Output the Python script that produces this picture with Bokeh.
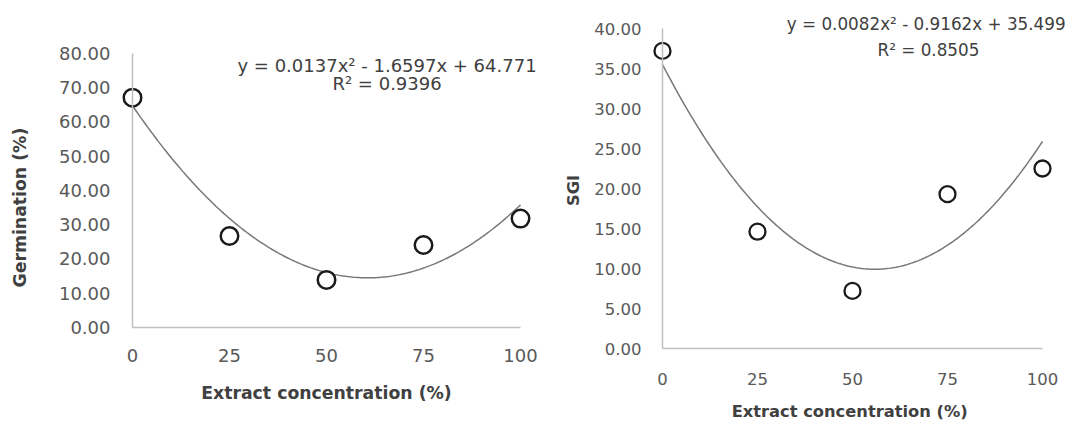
import numpy as np
from bokeh.plotting import figure
from bokeh.layouts import row
from bokeh.models import FixedTicker, NumeralTickFormatter, Label, Range1d
from bokeh.embed import file_html
from bokeh.resources import INLINE

# ---------------- data ----------------
conc = [0, 25, 50, 75, 100]
germination = [67.1, 26.7, 13.9, 24.1, 31.8]
sgi = [37.2, 14.6, 7.2, 19.3, 22.5]

germ_coef = [0.0137, -1.6597, 64.771]
sgi_coef = [0.0082, -0.9162, 35.499]

germ_eq = "y = 0.0137x² - 1.6597x + 64.771"
germ_r2 = "R² = 0.9396"
sgi_eq = "y = 0.0082x² - 0.9162x + 35.499"
sgi_r2 = "R² = 0.8505"

x_ticks = [0, 25, 50, 75, 100]
germ_ticks = [0, 10, 20, 30, 40, 50, 60, 70, 80]
sgi_ticks = [0, 5, 10, 15, 20, 25, 30, 35, 40]

x_title_left = "Extract concentration (%)"
x_title_right = "Extract concentration  (%)"
y_title_left = "Germination (%)"
y_title_right = "SGI"

FONT = "DejaVu Sans"
TICK_COLOR = "#595959"
TEXT_COLOR = "#404040"
AXIS_COLOR = "#bfbfbf"


def make_panel(y, coef, yticks, ymax, eq, r2, xtitle, ytitle,
               w, h, xr, yr, fs, title_fs, eq_fs, eq_pos, r2_pos, yt_pos,
               msize, mlw, xlab_standoff, xtitle_standoff, ylab_standoff):
    p = figure(frame_width=w, frame_height=h,
               min_border=0,
               x_range=Range1d(*xr), y_range=Range1d(*yr),
               output_backend="svg", toolbar_location=None)
    p.outline_line_color = None
    p.grid.visible = False
    p.background_fill_color = "white"
    p.border_fill_color = "white"

    # trend line from the displayed polynomial coefficients
    xs = np.linspace(0, 100, 201)
    ys = np.polyval(coef, xs)
    p.line(xs, ys, line_color="#777777", line_width=1.5)

    p.scatter(conc, y, size=msize, marker="circle", fill_color="white",
              line_color="#1a1a1a", line_width=mlw)

    xa = p.xaxis[0]
    xa.ticker = FixedTicker(ticks=x_ticks)
    xa.bounds = (0, 100)
    xa.fixed_location = 0
    xa.axis_line_color = AXIS_COLOR
    xa.axis_line_width = 1.5
    xa.major_tick_line_color = None
    xa.minor_tick_line_color = None
    xa.major_tick_out = 0
    xa.major_tick_in = 0
    xa.major_label_standoff = xlab_standoff
    xa.major_label_text_font = FONT
    xa.major_label_text_font_size = f"{fs}px"
    xa.major_label_text_color = TICK_COLOR
    xa.axis_label = xtitle
    xa.axis_label_standoff = xtitle_standoff
    xa.axis_label_text_font = FONT
    xa.axis_label_text_font_style = "bold"
    xa.axis_label_text_font_size = f"{title_fs}px"
    xa.axis_label_text_color = TEXT_COLOR

    ya = p.yaxis[0]
    ya.ticker = FixedTicker(ticks=yticks)
    ya.formatter = NumeralTickFormatter(format="0.00")
    ya.bounds = (0, ymax)
    ya.fixed_location = 0
    ya.axis_line_color = AXIS_COLOR
    ya.axis_line_width = 1.5
    ya.major_tick_line_color = None
    ya.minor_tick_line_color = None
    ya.major_tick_out = 0
    ya.major_tick_in = 0
    ya.major_label_standoff = ylab_standoff
    ya.major_label_text_font = FONT
    ya.major_label_text_font_size = f"{fs}px"
    ya.major_label_text_color = TICK_COLOR

    p.add_layout(Label(x=yt_pos[0], y=yt_pos[1], text=ytitle, angle=np.pi / 2,
                       text_font=FONT, text_font_style="bold",
                       text_font_size=f"{title_fs}px", text_color=TEXT_COLOR,
                       text_align="center", text_baseline="middle"))
    p.add_layout(Label(x=eq_pos[0], y=eq_pos[1], text=eq,
                       text_font=FONT, text_font_size=f"{eq_fs}px",
                       text_color=TEXT_COLOR,
                       text_align="center", text_baseline="middle"))
    p.add_layout(Label(x=r2_pos[0], y=r2_pos[1], text=r2,
                       text_font=FONT, text_font_size=f"{eq_fs}px",
                       text_color=TEXT_COLOR,
                       text_align="center", text_baseline="middle"))
    return p


# left panel: x=0 at px 132, 3.88 px/unit; y=0 at px 327, 3.425 px/unit
left = make_panel(germination, germ_coef, germ_ticks, 80, germ_eq, germ_r2,
                  x_title_left, y_title_left,
                  w=540, h=424, xr=(-34.02, 105.15), yr=(-28.32, 95.47),
                  fs=18, title_fs=17.3, eq_fs=18,
                  eq_pos=(65.6, 76.5), r2_pos=(65.6, 71.2), yt_pos=(-29, 35.0),
                  msize=17.5, mlw=2.5, xlab_standoff=22, xtitle_standoff=17,
                  ylab_standoff=22)

# right panel: x=0 at local px 122, 3.8 px/unit; y=0 at px 348, 8 px/unit
right = make_panel(sgi, sgi_coef, sgi_ticks, 40, sgi_eq, sgi_r2,
                   x_title_right, y_title_right,
                   w=532, h=424, xr=(-32.1, 107.9), yr=(-9.5, 43.5),
                   fs=16.5, title_fs=16.3, eq_fs=16.8,
                   eq_pos=(69.4, 40.6), r2_pos=(70.0, 37.3), yt_pos=(-23.3, 19.75),
                   msize=16, mlw=2.3, xlab_standoff=24, xtitle_standoff=14,
                   ylab_standoff=21)

layout = row(left, right)
open("out.html", "w").write(file_html(layout, INLINE))
